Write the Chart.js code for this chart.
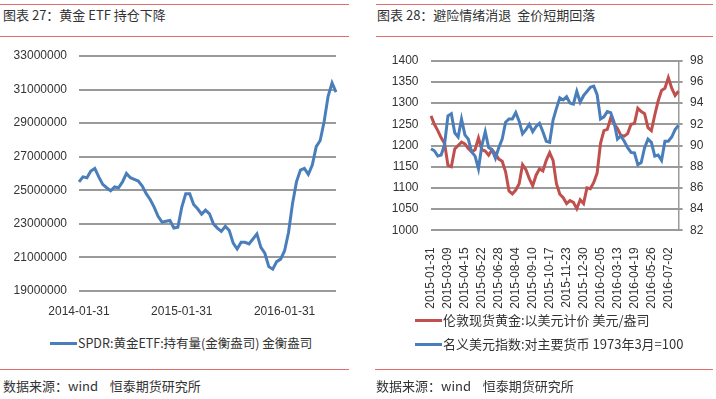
<!DOCTYPE html>
<html>
<head>
<meta charset="utf-8">
<script src="https://cdn.jsdelivr.net/npm/chart.js@4.4.0/dist/chart.umd.min.js"></script>
<style>
  body { margin: 0; width: 716px; height: 399px; background: #fff; position: relative; overflow: hidden;
         font-family: "Noto Sans CJK SC", "Liberation Sans", sans-serif; color: #333; }
  .rule { position: absolute; height: 1px; background: #e36c6c; }
  .txt { position: absolute; white-space: pre; font-size: 13px; line-height: 16px; }
  .key { position: absolute; height: 3px; }
  canvas { position: absolute; }
</style>
</head>
<body>
<!-- 左图 -->
<div class="rule" style="left:0;top:4px;width:349px"></div>
<div class="txt" style="left:3px;top:7px">图表 27：黄金 ETF 持仓下降</div>
<div class="rule" style="left:0;top:36px;width:349px"></div>
<canvas id="etfChart" width="350" height="275" style="left:0;top:46px"></canvas>
<div class="key" style="left:50px;top:342px;width:27px;background:#4a7ebb"></div>
<div class="txt" style="left:78px;top:335px;font-size:12.5px">SPDR:黄金ETF:持有量(金衡盎司) 金衡盎司</div>
<div class="rule" style="left:0;top:369px;width:349px"></div>
<div class="txt" style="left:3px;top:378px">数据来源：wind    恒泰期货研究所</div>

<!-- 右图 -->
<div class="rule" style="left:376px;top:4px;width:337px"></div>
<div class="txt" style="left:377px;top:7px">图表 28：避险情绪消退  金价短期回落</div>
<div class="rule" style="left:376px;top:36px;width:337px"></div>
<canvas id="goldChart" width="340" height="270" style="left:376px;top:46px"></canvas>
<div class="key" style="left:415px;top:319px;width:27px;background:#c0504d"></div>
<div class="txt" style="left:443px;top:312px">伦敦现货黄金:以美元计价 美元/盎司</div>
<div class="key" style="left:415px;top:343px;width:27px;background:#4a7ebb"></div>
<div class="txt" style="left:443px;top:336px">名义美元指数:对主要货币 1973年3月=100</div>
<div class="rule" style="left:375px;top:369px;width:338px"></div>
<div class="txt" style="left:376px;top:378px">数据来源：wind    恒泰期货研究所</div>

<script>
// ---- 图表 27 数据：SPDR 黄金ETF 持有量（百万盎司，约两周一个点）
const etfTickLabels = ["2014-01-31", "2015-01-31", "2016-01-31"];
const etfTickEvery = 26;
const etfHoldingsMn = [
  25.5, 25.8, 25.75, 26.15, 26.3, 25.8, 25.35, 25.15, 24.97, 25.2,
  25.15, 25.5, 26.0, 25.75, 25.65, 25.55, 25.25, 24.8, 24.45, 24.0,
  23.45, 23.1, 23.15, 23.2, 22.75, 22.8, 24.0, 24.8, 24.8, 24.15,
  23.9, 23.58, 23.82, 23.6, 23.0, 22.75, 22.55, 22.85, 22.6, 21.85,
  21.5, 21.9, 21.9, 21.8, 22.1, 22.4, 21.6, 21.25, 20.45, 20.3,
  20.75, 20.9, 21.4, 22.5, 24.2, 25.5, 26.2, 26.3, 25.95, 26.5,
  27.6, 27.97, 29.1, 30.6, 31.4, 30.85
];

// ---- 图表 28 数据：金价（左轴）与美元指数（右轴）
const goldTickLabels = [
  "2015-01-31", "2015-03-09", "2015-04-15", "2015-05-22", "2015-06-28",
  "2015-08-04", "2015-09-10", "2015-10-17", "2015-11-23", "2015-12-30",
  "2016-02-05", "2016-03-13", "2016-04-19", "2016-05-26", "2016-07-02"
];
const goldTickEvery = 5;
const goldPrice = [
  1270, 1250, 1235, 1218, 1205, 1153, 1150, 1192, 1200, 1208,
  1204, 1193, 1185, 1190, 1218, 1190, 1187, 1177, 1190, 1180,
  1168, 1163, 1138, 1093, 1086, 1095, 1110, 1155, 1143, 1122,
  1105, 1130, 1145, 1140, 1165, 1183, 1165, 1110, 1085, 1077,
  1063, 1070, 1066, 1051, 1072, 1063, 1100, 1098, 1113, 1135,
  1205, 1235, 1238, 1265, 1251, 1240, 1224, 1222, 1228, 1250,
  1252, 1288, 1280, 1275, 1242, 1235, 1272, 1305, 1330, 1335,
  1360, 1335, 1318, 1328
];
const usdIndex = [
  89.7, 89.5, 89.0, 89.1, 90.1, 92.8, 93.0, 91.2, 90.8, 92.5,
  91.0, 90.6, 89.4, 89.0, 87.8, 90.0, 91.3, 89.8, 89.6, 88.8,
  89.8, 90.6, 92.2, 92.5, 92.5, 93.1, 92.3, 91.1, 91.5, 92.0,
  91.3, 91.8, 92.1, 91.3, 90.4, 90.3, 92.4, 93.5, 94.5, 94.3,
  94.6, 94.0, 93.9, 95.1, 94.1, 94.7, 95.1, 95.5, 95.6, 94.8,
  92.5, 92.7, 93.2, 93.1, 92.2, 90.6, 90.9, 90.4, 89.8, 89.35,
  89.3, 88.2, 88.4, 89.8, 90.6, 90.3, 89.0, 89.1, 88.6, 90.4,
  90.4, 90.8, 91.5, 91.9
];

const BLUE = "#4a7ebb";
const RED = "#c0504d";
const GRID = "#9a9a9a";
const CLEAR = "rgba(0,0,0,0)";
const tickFont = { family: "Liberation Sans", size: 12 };

// 分类轴：只在固定间隔处显示日期
const etfLabels = etfHoldingsMn.map((_, i) => (i % etfTickEvery === 0 ? etfTickLabels[i / etfTickEvery] || "" : ""));
const goldLabels = goldPrice.map((_, i) => (i % goldTickEvery === 0 ? goldTickLabels[i / goldTickEvery] || "" : ""));

// 横向网格线：画完后按 y 轴刻度补到线条下面
const gridLines = {
  id: "gridLines",
  afterDraw(chart) {
    const { ctx, chartArea } = chart;
    const scale = chart.scales.y;
    const extend = chart.scales.y1 ? 4 : 0;
    ctx.save();
    ctx.globalCompositeOperation = "destination-over";
    ctx.fillStyle = GRID;
    for (let i = 0; i < scale.ticks.length; i++) {
      const y = Math.round(scale.getPixelForValue(scale.ticks[i].value));
      ctx.fillRect(chartArea.left, y - 1, chartArea.right - chartArea.left + extend, 2);
    }
    ctx.restore();
  },
};

new Chart(document.getElementById("etfChart"), {
  type: "line",
  data: {
    labels: etfLabels,
    datasets: [{
      data: etfHoldingsMn.map((v) => v * 1e6),
      borderColor: BLUE,
      borderWidth: 3,
      pointRadius: 0,
      tension: 0,
    }],
  },
  plugins: [gridLines],
  options: {
    responsive: false,
    animation: false,
    layout: { padding: { left: 0, right: 14, top: 10, bottom: 0 } },
    plugins: { legend: { display: false }, tooltip: { enabled: false } },
    scales: {
      x: {
        grid: { display: false },
        border: { display: false },
        ticks: { autoSkip: false, maxRotation: 0, padding: 5, color: "#333", font: tickFont },
        afterFit: (s) => { s.height = 30; },
      },
      y: {
        min: 19000000,
        max: 33000000,
        grid: { color: CLEAR, tickLength: 12, tickColor: CLEAR },
        border: { display: false },
        ticks: { stepSize: 2000000, padding: 0, color: "#333", font: tickFont, callback: (v) => String(v) },
        afterFit: (s) => { s.width = 79; },
      },
    },
  },
});

new Chart(document.getElementById("goldChart"), {
  type: "line",
  data: {
    labels: goldLabels,
    datasets: [
      { data: goldPrice, yAxisID: "y", borderColor: RED, borderWidth: 3, pointRadius: 0, tension: 0, order: 2 },
      { data: usdIndex, yAxisID: "y1", borderColor: BLUE, borderWidth: 3, pointRadius: 0, tension: 0, order: 1 },
    ],
  },
  plugins: [gridLines],
  options: {
    responsive: false,
    animation: false,
    layout: { padding: { left: 0, right: 0, top: 10.7, bottom: 0 } },
    plugins: { legend: { display: false }, tooltip: { enabled: false } },
    scales: {
      x: {
        grid: { display: false },
        border: { display: false },
        ticks: { autoSkip: false, minRotation: 90, maxRotation: 90, padding: 9, color: "#333", font: tickFont },
        afterFit: (s) => { s.height = 85.7; },
      },
      y: {
        position: "left",
        min: 1000,
        max: 1400,
        grid: { color: CLEAR, tickLength: 12.5, tickColor: CLEAR },
        border: { display: false },
        ticks: { stepSize: 50, padding: 0, color: "#333", font: tickFont, callback: (v) => String(v) },
        afterFit: (s) => { s.width = 55; },
      },
      y1: {
        position: "right",
        min: 82,
        max: 98,
        grid: { drawOnChartArea: false, color: GRID, tickLength: 4 },
        border: { display: true, color: GRID, width: 1.5 },
        ticks: { stepSize: 2, padding: 7.5, color: "#333", font: tickFont, callback: (v) => String(v) },
        afterFit: (s) => { s.width = 37.5; },
      },
    },
  },
});
</script>
</body>
</html>
